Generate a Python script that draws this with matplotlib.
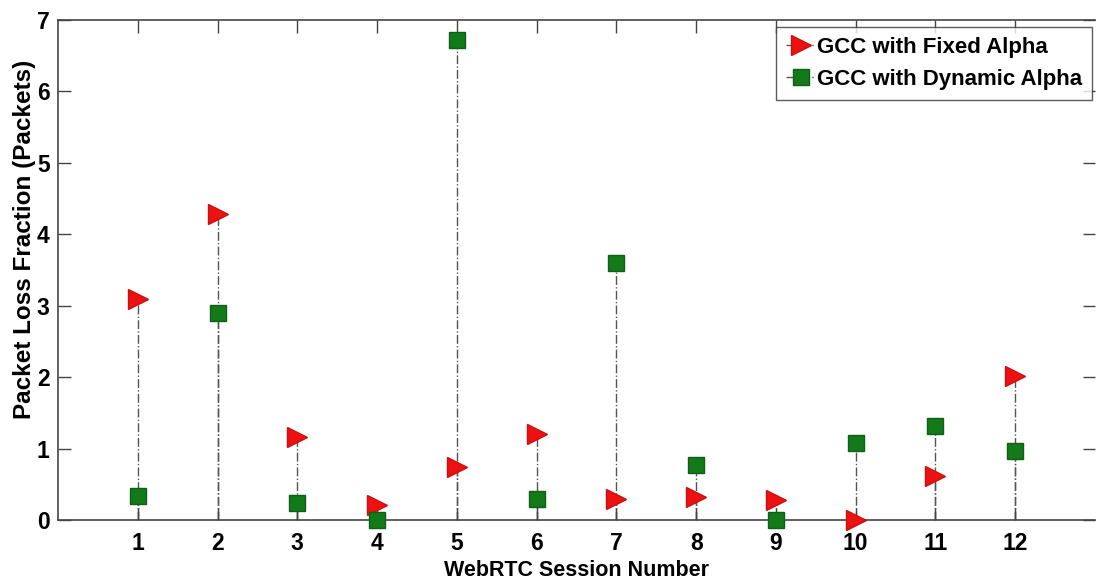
import matplotlib
matplotlib.use("Agg")
import matplotlib.pyplot as plt
import numpy as np

plt.rcParams['font.family'] = ['Liberation Sans', 'DejaVu Sans']

sessions = [1, 2, 3, 4, 5, 6, 7, 8, 9, 10, 11, 12]
fixed_alpha = [3.10, 4.28, 1.16, 0.21, 0.74, 1.20, 0.29, 0.32, 0.28, 0.00, 0.62, 2.02]
dynamic_alpha = [0.34, 2.90, 0.24, 0.00, 6.72, 0.29, 3.60, 0.77, 0.00, 1.08, 1.32, 0.97]
yticks = [0, 1, 2, 3, 4, 5, 6, 7]

fig = plt.figure(figsize=(11.05, 5.87), dpi=100)
ax = fig.add_axes([58 / 1105, 1 - 520 / 587, (1095 - 58) / 1105, (520 - 20) / 587])

stem_color = '#555555'
for xs, ys in ((sessions, fixed_alpha), (sessions, dynamic_alpha)):
    ax.vlines(xs, 0, ys, colors=stem_color, linestyles='-.', linewidth=1.0, zorder=1)

red_face, red_edge = '#ee1111', '#c81010'
green_face, green_edge = '#137a1a', '#0f5f14'

ax.plot(sessions, fixed_alpha, linestyle='none', marker='>', markersize=14,
        color=red_face, markeredgecolor=red_edge, zorder=3, clip_on=False)
ax.plot(sessions, dynamic_alpha, linestyle='none', marker='s', markersize=12,
        color=green_face, markeredgecolor=green_edge, zorder=4, clip_on=False)

# legend handles carry the dash-dot stem style together with the marker
h1, = ax.plot([], [], linestyle='-.', color=stem_color, marker='>', markersize=14,
              markerfacecolor=red_face, markeredgecolor=red_edge, linewidth=1.0)
h2, = ax.plot([], [], linestyle='-.', color=stem_color, marker='s', markersize=12,
              markerfacecolor=green_face, markeredgecolor=green_edge, linewidth=1.0)
leg = ax.legend([h1, h2], ['GCC with Fixed Alpha', 'GCC with Dynamic Alpha'],
                loc='upper right', bbox_to_anchor=(0.9975, 0.986),
                prop={'size': 16, 'weight': 'bold'},
                frameon=True, fancybox=False, edgecolor='#333333',
                handlelength=1.3, handletextpad=0.1, borderpad=0.45,
                labelspacing=0.5, borderaxespad=0.0)
leg.get_frame().set_linewidth(1.0)

ax.set_xlim(0, 13)
ax.set_ylim(0, 7)
ax.set_xticks(sessions)
ax.set_xticklabels([str(s) for s in sessions], fontsize=16.5, fontweight='bold')
ax.set_yticks(yticks)
ax.set_yticklabels([str(t) for t in yticks], fontsize=16.5, fontweight='bold')
ax.tick_params(direction='in', length=9, width=1.0, color='#444444',
               top=True, right=True)
ax.tick_params(axis='x', pad=9)
ax.tick_params(axis='y', pad=6)

for side in ('left', 'bottom', 'top'):
    ax.spines[side].set_color('#444444')
    ax.spines[side].set_linewidth(1.2)
ax.spines['right'].set_visible(False)

ax.set_xlabel('WebRTC Session Number', fontsize=15.5, fontweight='bold', labelpad=3)
ax.set_ylabel('Packet Loss Fraction (Packets)', fontsize=17.5, fontweight='bold')
ax.yaxis.set_label_coords(-0.021, 0.562)

fig.savefig('out.png', dpi=100)
